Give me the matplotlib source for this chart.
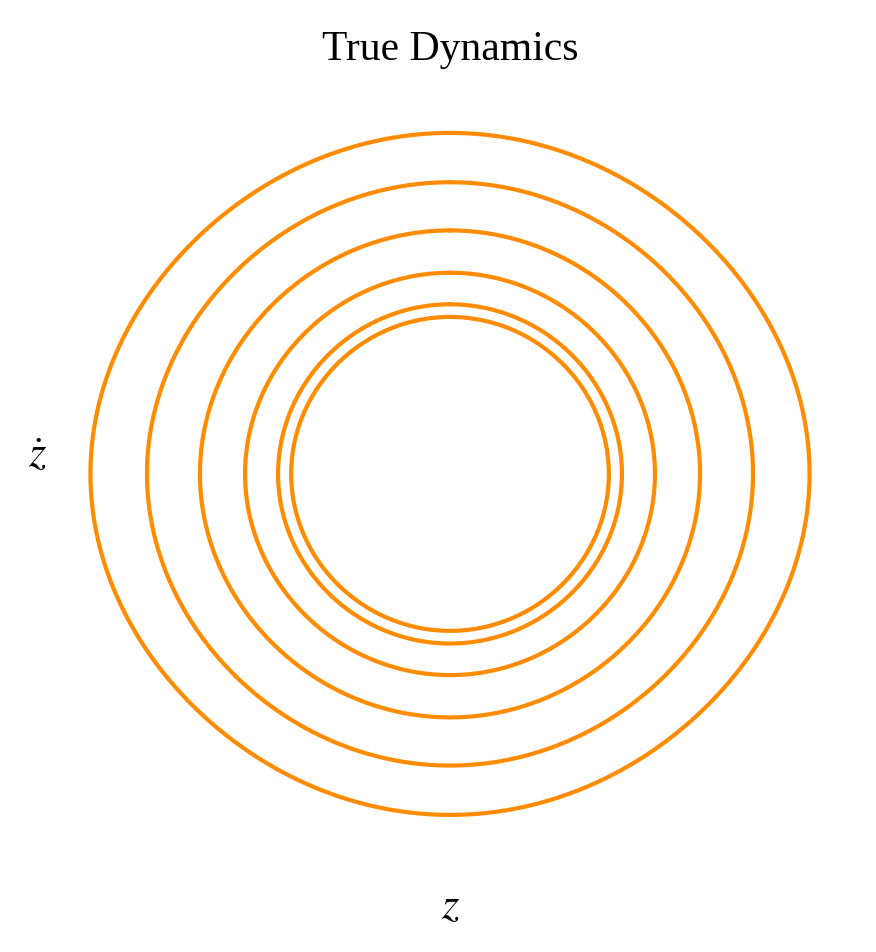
import numpy as np
import matplotlib
matplotlib.use("Agg")
import matplotlib.pyplot as plt

plt.rcParams['font.family'] = 'serif'
plt.rcParams['font.serif'] = ['Liberation Serif', 'DejaVu Serif']
plt.rcParams['mathtext.fontset'] = 'stix'

# pendulum trajectories: initial angle z0 (rad), released from rest
amplitudes = [1.10, 0.927, 0.765, 0.627, 0.526, 0.486]
line_color = 'darkorange'


def pendulum_orbit(z0, n=600):
    """Closed orbit of z'' = -sin(z) with energy set by z0."""
    k = np.sin(z0 / 2)
    phi = np.linspace(0, 2 * np.pi, n)
    z = 2 * np.arcsin(k * np.sin(phi))
    zdot = 2 * k * np.cos(phi)
    return z, zdot


fig = plt.figure(figsize=(8.76, 9.52), dpi=100)
ax = fig.add_axes([0.0622, 0.1082, 0.903, 0.788])

for z0 in amplitudes:
    z, zdot = pendulum_orbit(z0)
    ax.plot(z, zdot, color=line_color, lw=3, solid_capstyle='round')

ax.set_xticks([])
ax.set_yticks([])
for s in ax.spines.values():
    s.set_visible(False)

ax.set_title('True Dynamics', fontsize=30, pad=28)
ax.set_xlabel(r'$z$', fontsize=32, va='center')
ax.xaxis.set_label_coords(0.5, -0.077)
ax.set_ylabel(r'$\dot{z}$', fontsize=32, rotation=0, va='center', ha='center')
ax.yaxis.set_label_coords(-0.021, 0.524)

fig.savefig('out.png', dpi=100)
